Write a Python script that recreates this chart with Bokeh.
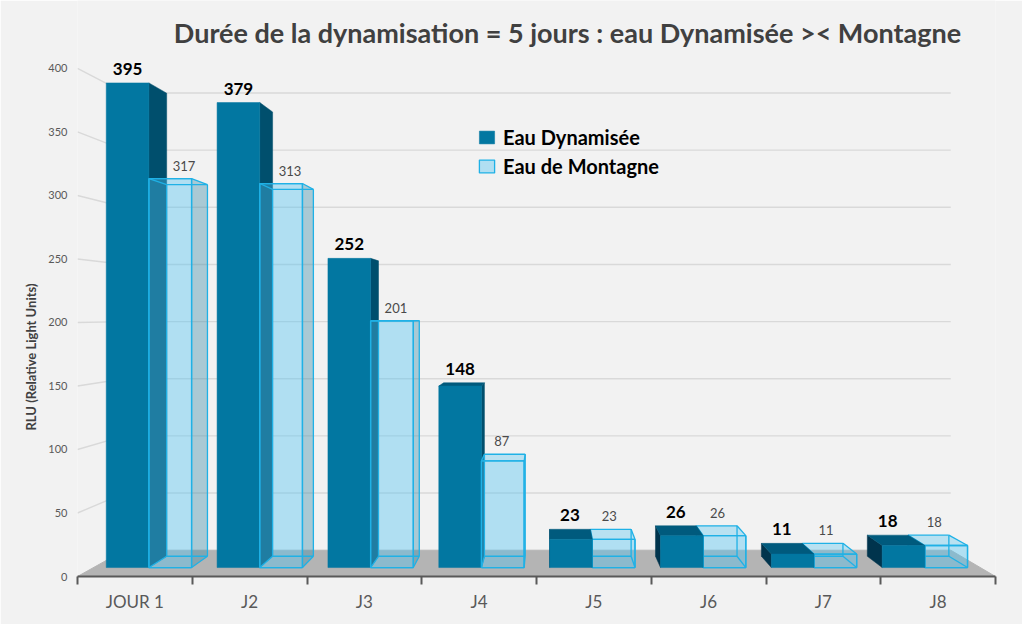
import math
from bokeh.plotting import figure
from bokeh.models import Range1d, FixedTicker, Label, Legend, LegendItem, Title
from bokeh.core.properties import value
from bokeh.embed import file_html
from bokeh.resources import INLINE

# ---------------- data ----------------
categories = ["JOUR 1", "J2", "J3", "J4", "J5", "J6", "J7", "J8"]
dynamisee = [395, 379, 252, 148, 23, 26, 11, 18]
montagne = [317, 313, 201, 87, 23, 26, 11, 18]
y_ticks = [0, 50, 100, 150, 200, 250, 300, 350, 400]
series_names = ["Eau Dynamisée", "Eau de Montagne"]
title_text = "Durée de la dynamisation = 5 jours : eau Dynamisée >< Montagne"
y_title = "RLU (Relative Light Units)"

# ---------------- style ----------------
BG = "#f2f2f2"
FONT = "Lato"
DYN_FRONT = "#0277a1"
DYN_RSIDE = "#004f6d"
DYN_LSIDE = "#00344d"
DYN_TOP = "#005a7d"
MON_FILL = "#4dc2f2"
MON_SIDE = "#3c8ca7"
MON_EDGE = "#1fb1e6"
FLOOR = "#b4b4b4"
GRID = "#d9d9d9"
AXIS = "#595959"

# simple perspective view (vanishing point in data space, depth fractions)
VP_X, VP_Y = 4.1, 207.0
T_FRONT, T_BACK, T_WALL = 0.034, 0.077, 0.10
T_MID = (T_FRONT + T_BACK) / 2
BAR_W = 0.385
OFFSETS = [0.115, 0.5]

n = len(categories)


def proj(x, v, t):
    return x + (VP_X - x) * t, v + (VP_Y - v) * t


def quad(pts):
    return [q[0] for q in pts], [q[1] for q in pts]


def box_geometry(x0, x1, h):
    f = lambda x, v: proj(x, v, T_FRONT)
    b = lambda x, v: proj(x, v, T_BACK)
    faces = {
        "front": [f(x0, 0), f(x1, 0), f(x1, h), f(x0, h)],
        "top": [f(x0, h), f(x1, h), b(x1, h), b(x0, h)],
        "right": [f(x1, 0), b(x1, 0), b(x1, h), f(x1, h)],
        "left": [f(x0, 0), b(x0, 0), b(x0, h), f(x0, h)],
    }
    edges = [
        [f(x0, 0), f(x1, 0)], [f(x1, 0), f(x1, h)], [f(x1, h), f(x0, h)], [f(x0, h), f(x0, 0)],
        [b(x0, 0), b(x1, 0)], [b(x1, 0), b(x1, h)], [b(x1, h), b(x0, h)], [b(x0, h), b(x0, 0)],
        [f(x0, 0), b(x0, 0)], [f(x1, 0), b(x1, 0)], [f(x1, h), b(x1, h)], [f(x0, h), b(x0, h)],
    ]
    vis = {"front": True, "top": h < VP_Y, "right": x1 < VP_X, "left": x0 > VP_X}
    return faces, edges, vis


p = figure(width=1022, height=624,
           x_range=Range1d(0, n), y_range=Range1d(0, 453.5),
           output_backend="svg", toolbar_location=None,
           min_border_left=77, min_border_right=27, min_border_top=0, min_border_bottom=48,
           background_fill_color=BG, border_fill_color=BG, outline_line_color=None)
p.xgrid.visible = False
p.ygrid.visible = False

# back-wall gridlines and their slanted connectors to the value axis
gx, gy = [], []
for v in y_ticks[1:]:
    l = proj(0, v, T_WALL)
    r = proj(n, v, T_WALL)
    gx.append([0, l[0], r[0]])
    gy.append([v, l[1], r[1]])
p.multi_line(gx, gy, line_color=GRID, line_width=1.4)

# floor
fx, fy = quad([(0, 0), (n, 0), proj(n, 0, T_WALL), proj(0, 0, T_WALL)])
p.patch(fx, fy, fill_color=FLOOR, line_color=FLOOR)


def draw_series(idx, values, series):
    fronts, tops, rs, ls, edges = ([], []), ([], []), ([], []), ([], []), ([], [])
    for i in idx:
        x0 = i + OFFSETS[series]
        x1 = x0 + BAR_W
        faces, ed, vis = box_geometry(x0, x1, values[i])
        for key, store in (("front", fronts), ("top", tops), ("right", rs), ("left", ls)):
            if vis[key]:
                xs, ys = quad(faces[key])
                store[0].append(xs)
                store[1].append(ys)
        for e in ed:
            edges[0].append([e[0][0], e[1][0]])
            edges[1].append([e[0][1], e[1][1]])
    if series == 0:
        if rs[0]:
            p.patches(rs[0], rs[1], fill_color=DYN_RSIDE, line_color=DYN_RSIDE, line_width=0.5)
        if ls[0]:
            p.patches(ls[0], ls[1], fill_color=DYN_LSIDE, line_color=DYN_LSIDE, line_width=0.5)
        if tops[0]:
            p.patches(tops[0], tops[1], fill_color=DYN_TOP, line_color=DYN_TOP, line_width=0.5)
        r = p.patches(fronts[0], fronts[1], fill_color=DYN_FRONT, line_color=DYN_FRONT, line_width=0.5)
    else:
        if rs[0]:
            p.patches(rs[0], rs[1], fill_color=MON_SIDE, fill_alpha=0.4, line_color=None)
        if ls[0]:
            p.patches(ls[0], ls[1], fill_color=MON_SIDE, fill_alpha=0.4, line_color=None)
        if tops[0]:
            p.patches(tops[0], tops[1], fill_color=MON_FILL, fill_alpha=0.35, line_color=None)
        r = p.patches(fronts[0], fronts[1], fill_color=MON_FILL, fill_alpha=0.4,
                      line_color=MON_EDGE, line_width=1.3)
        p.multi_line(edges[0], edges[1], line_color=MON_EDGE, line_width=1.3)
    return r


left_idx = [i for i in range(n) if i + OFFSETS[0] <= VP_X]
right_idx = [i for i in range(n) if i + OFFSETS[0] > VP_X]

r_dyn = draw_series(left_idx, dynamisee, 0)
r_mon = draw_series(left_idx, montagne, 1)
draw_series(right_idx, montagne, 1)
draw_series(right_idx, dynamisee, 0)


# value labels
def label_pos(i, values, series, t_x):
    xc = i + OFFSETS[series] + BAR_W / 2
    h = values[i]
    yf = proj(xc, h, T_FRONT)[1]
    yb = proj(xc, h, T_BACK)[1]
    return proj(xc, h, t_x)[0], max(yf, yb)


dlx, dly, mlx, mly = [], [], [], []
for i in range(n):
    a = label_pos(i, dynamisee, 0, T_BACK if i in right_idx else T_FRONT)
    dlx.append(a[0]); dly.append(a[1])
    b = label_pos(i, montagne, 1, T_MID if i in right_idx else T_BACK)
    mlx.append(b[0]); mly.append(b[1])

p.text(dlx, dly, text=[str(v) for v in dynamisee], text_font=value(FONT), text_font_style="bold",
       text_font_size="17px", text_color="#000000", text_align="center", text_baseline="bottom",
       y_offset=-8)
p.text(mlx, mly, text=[str(v) for v in montagne], text_font=value(FONT),
       text_font_size="13px", text_color="#4a4a4a", text_align="center", text_baseline="bottom",
       y_offset=-8, x_offset=-3)

# axes
xa = p.xaxis[0]
xa.ticker = FixedTicker(ticks=[i + 0.5 for i in range(n)], minor_ticks=list(range(n + 1)))
xa.major_label_overrides = {i + 0.5: c for i, c in enumerate(categories)}
xa.axis_line_color = AXIS
xa.axis_line_width = 2
xa.major_tick_line_color = None
xa.major_tick_out = 0
xa.major_tick_in = 0
xa.minor_tick_line_color = AXIS
xa.minor_tick_line_width = 2
xa.minor_tick_out = 8
xa.minor_tick_in = 0
xa.major_label_standoff = 6
xa.major_label_text_font = FONT
xa.major_label_text_font_size = "17px"
xa.major_label_text_color = AXIS

ya = p.yaxis[0]
ya.ticker = FixedTicker(ticks=y_ticks)
ya.axis_line_color = None
ya.major_tick_line_color = None
ya.minor_tick_line_color = None
ya.major_tick_out = 0
ya.major_tick_in = 0
ya.major_label_standoff = 10
ya.major_label_text_font = FONT
ya.major_label_text_font_size = "11px"
ya.major_label_text_color = AXIS

# titles
p.add_layout(Label(x=4.27, y=428, text=title_text, text_font=FONT, text_font_style="bold",
                   text_font_size="27px", text_color="#404040", text_align="center",
                   text_baseline="middle"))
p.add_layout(Title(text=y_title, align="left", offset=146, text_font=FONT,
                   text_font_style="bold", text_font_size="13px", text_color="#404040",
                   standoff=14), "left")

# legend
legend = Legend(items=[LegendItem(label=series_names[0], renderers=[r_dyn]),
                       LegendItem(label=series_names[1], renderers=[r_mon])],
                location=(400, 398), orientation="vertical",
                background_fill_alpha=0, border_line_color=None,
                label_text_font=FONT, label_text_font_style="bold", label_text_font_size="20px",
                label_text_color="#000000", glyph_width=19, glyph_height=16,
                label_standoff=7, spacing=5, padding=0, margin=0, label_height=20)
p.add_layout(legend)

open("out.html", "w").write(file_html(p, INLINE))
